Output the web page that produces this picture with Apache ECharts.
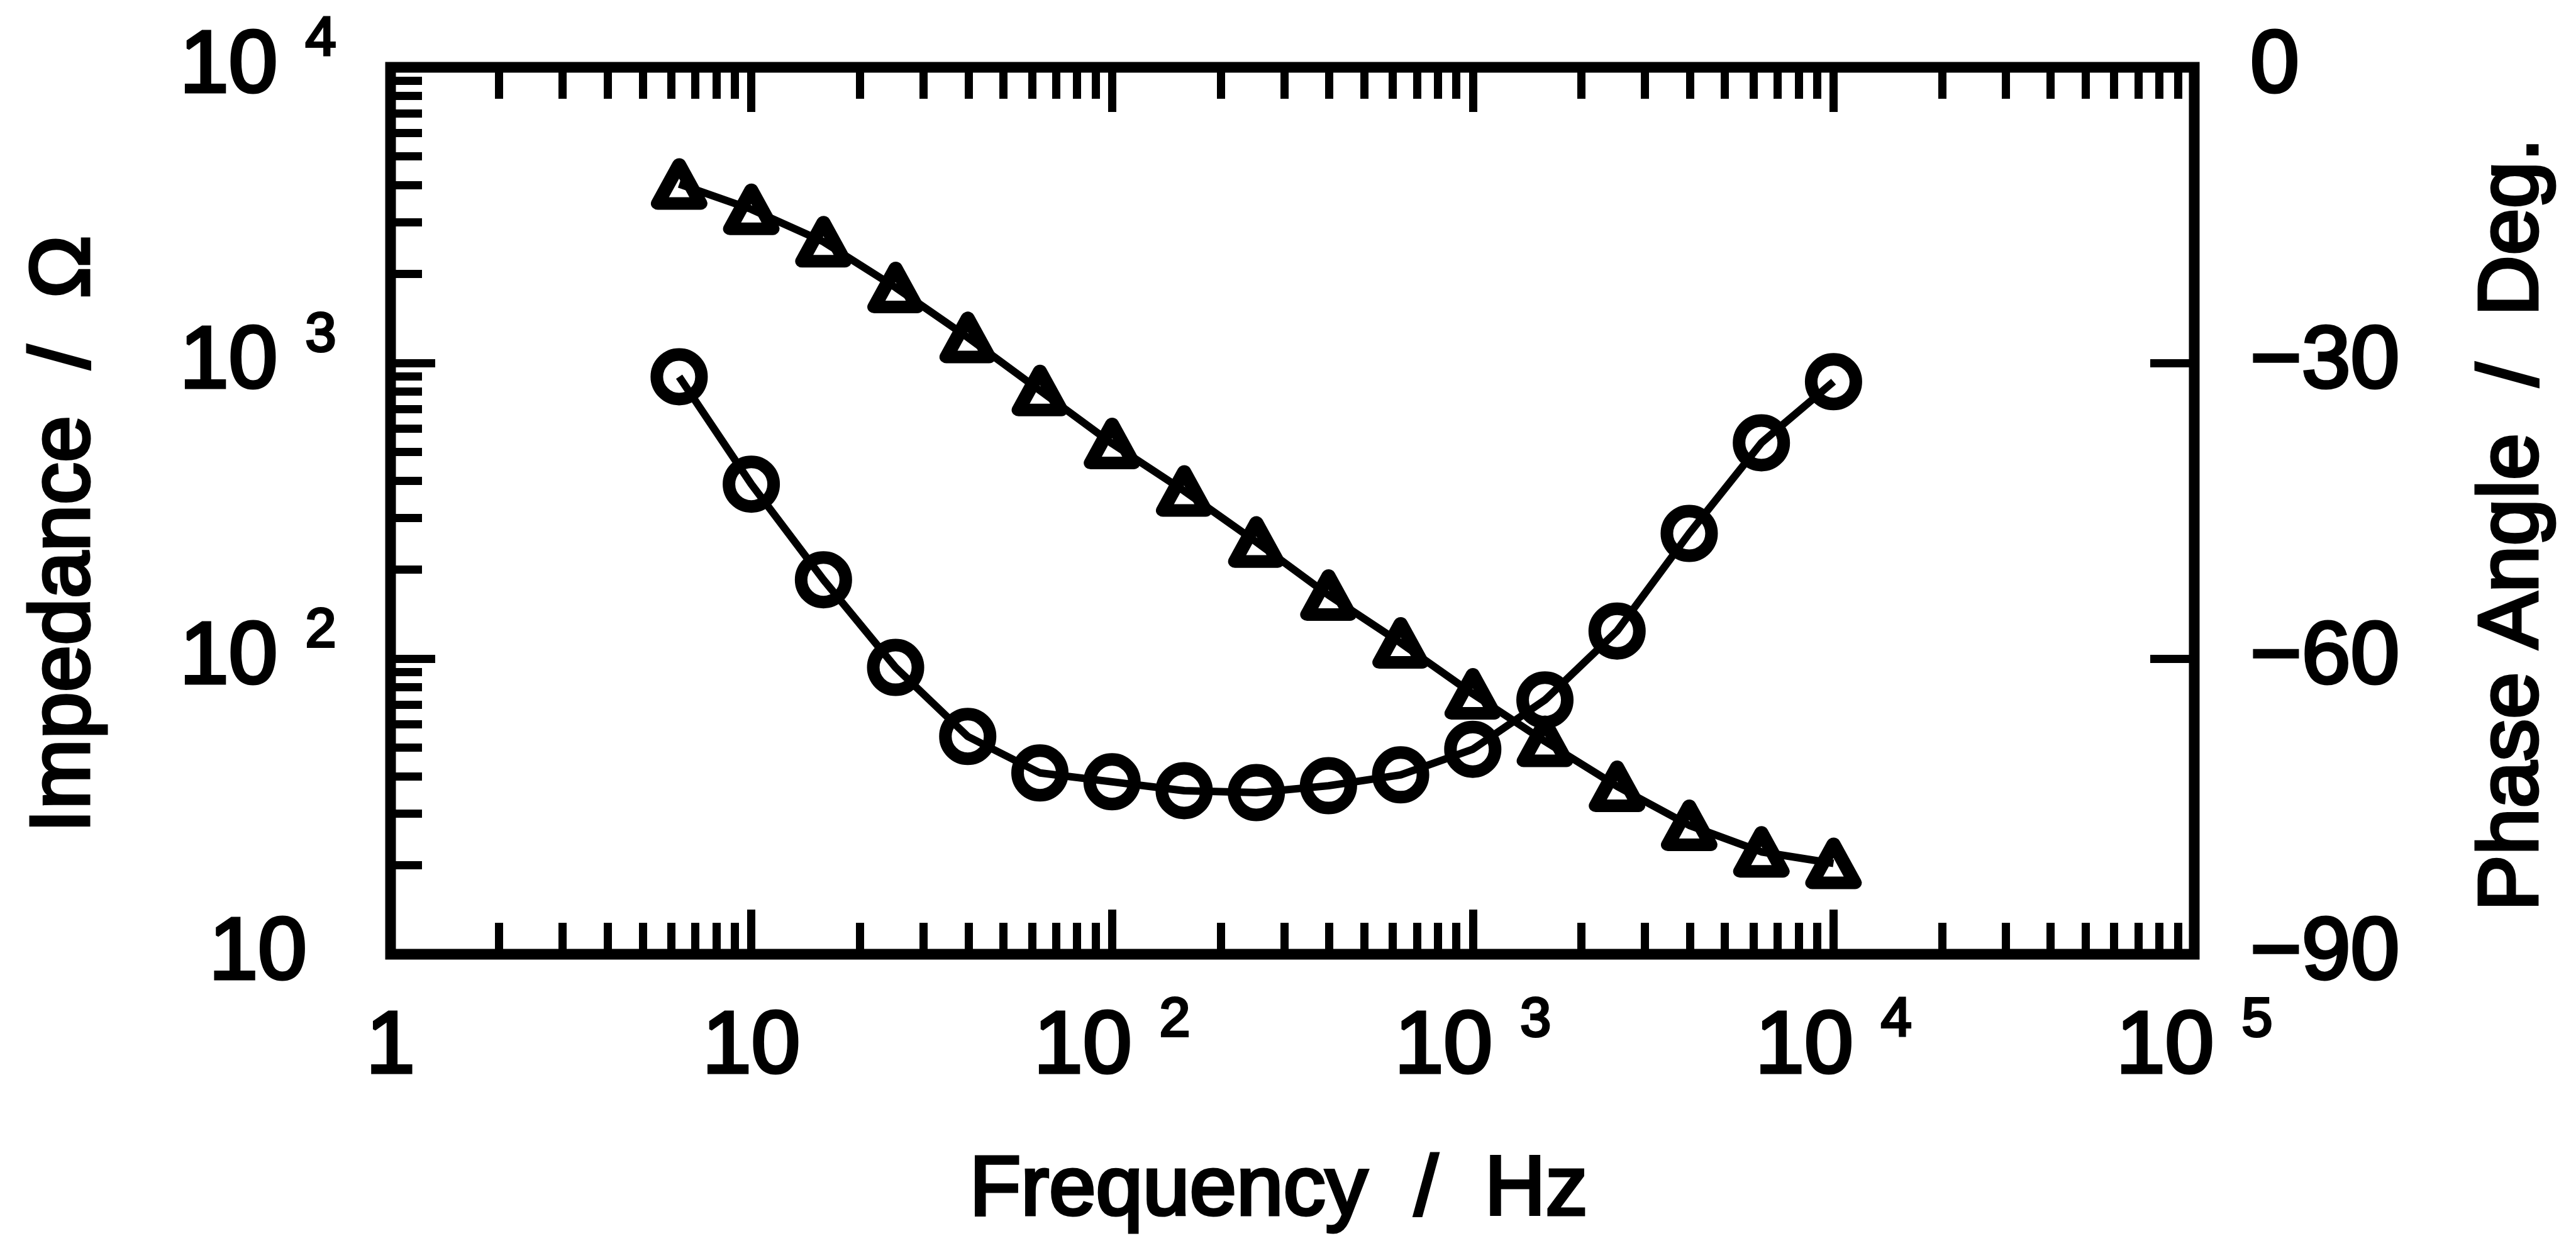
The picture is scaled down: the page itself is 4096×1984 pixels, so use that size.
<!DOCTYPE html>
<html>
<head>
<meta charset="utf-8">
<script src="https://cdn.jsdelivr.net/npm/echarts@6/dist/echarts.min.js"></script>
<style>
html,body{margin:0;padding:0;background:#fff;}
#chart{width:4096px;height:1984px;}
</style>
</head>
<body>
<div id="chart"></div>
<script>
// ---- data ----
const frequency = [6.31, 10, 15.85, 25.12, 39.81, 63.1, 100, 158.5, 251.2, 398.1, 631, 1000, 1585, 2512, 3981, 6310, 10000];
const impedance = [4030, 3310, 2570, 1800, 1220, 807, 534, 369, 248, 164, 113, 76, 52.5, 37, 27.3, 22.2, 20.3];
const phase = [-31.4, -42.3, -52.0, -60.9, -67.9, -71.6, -72.5, -73.4, -73.6, -72.9, -71.8, -69.2, -64.2, -57.2, -47.3, -38.1, -31.9];

// ---- ticks and tick labels ----
const xMajorTicks = [1, 10, 100, 1000, 10000, 100000];
const xTickLabels = [['1', ''], ['10', ''], ['10', '2'], ['10', '3'], ['10', '4'], ['10', '5']];
const xMinorTicks = [2, 3, 4, 5, 6, 7, 8, 9,
  20, 30, 40, 50, 60, 70, 80, 90,
  200, 300, 400, 500, 600, 700, 800, 900,
  2000, 3000, 4000, 5000, 6000, 7000, 8000, 9000,
  20000, 30000, 40000, 50000, 60000, 70000, 80000, 90000];
const yMajorTicks = [10, 100, 1000, 10000];
const yTickLabels = [['10', ''], ['10', '2'], ['10', '3'], ['10', '4']];
const yMinorTicks = [20, 30, 40, 50, 60, 70, 80, 90,
  200, 300, 400, 500, 600, 700, 800, 900,
  2000, 3000, 4000, 5000, 6000, 7000, 8000, 9000];
const phaseTicks = [-90, -60, -30, 0];
const phaseTickLabels = ['\u221290', '\u221260', '\u221230', '0'];

const FONT = 'Liberation Sans';
const rich = {
  m: {fontFamily: FONT, fontSize: 140, lineHeight: 174, color: '#000', textBorderColor: '#000', textBorderWidth: 5},
  s: {fontFamily: FONT, fontSize: 88, verticalAlign: 'top', padding: [0, 0, 0, 44], color: '#000', textBorderColor: '#000', textBorderWidth: 4}
};
function nearestIndex(arr, v) {
  let best = 0, bd = Infinity;
  arr.forEach((t, i) => { const d = Math.abs(Math.log10(t) - Math.log10(v)); if (d < bd) { bd = d; best = i; } });
  return best;
}
function powFormatter(ticks, labels) {
  return function (v) {
    const l = labels[nearestIndex(ticks, v)];
    return l[1] ? '{m|' + l[0] + '}{s|' + l[1] + '}' : '{m|' + l[0] + '}';
  };
}
const nameStyle = {fontFamily: FONT, fontSize: 134, color: '#000', textBorderColor: '#000', textBorderWidth: 5};
const TICK_W = 13;

function logX(position, minor, withLabel) {
  const ax = {
    type: 'log', logBase: 10, min: 1, max: 100000, position: position,
    axisLine: {show: false, onZero: false},
    splitLine: {show: false}, minorTick: {show: false}, minorSplitLine: {show: false},
    axisTick: {show: true, inside: true, length: minor ? 50 : 71,
      lineStyle: {color: '#000', width: TICK_W}, customValues: minor ? xMinorTicks : xMajorTicks},
    axisLabel: {show: false},
    silent: true
  };
  if (withLabel) {
    ax.axisLabel = {show: true, margin: 62, customValues: xMajorTicks,
      formatter: powFormatter(xMajorTicks, xTickLabels), rich: rich};
    ax.name = 'Frequency  /  Hz';
    ax.nameLocation = 'middle';
    ax.nameGap = 310;
    ax.nameTextStyle = Object.assign({padding: [0, 44, 0, 0]}, nameStyle);
  }
  return ax;
}

const option = {
  backgroundColor: '#fff',
  animation: false,
  grid: {left: 621, right: 607, top: 107, bottom: 467, show: true, borderColor: '#000', borderWidth: 17,
    backgroundColor: 'transparent', containLabel: false, outerBoundsMode: 'none'},
  xAxis: [
    logX('bottom', false, true),
    logX('bottom', true, false),
    logX('top', false, false),
    logX('top', true, false)
  ],
  yAxis: [
    {
      type: 'log', logBase: 10, min: 10, max: 10000, position: 'left',
      axisLine: {show: false, onZero: false},
      splitLine: {show: false}, minorTick: {show: false},
      axisTick: {show: true, inside: true, length: 71, lineStyle: {color: '#000', width: TICK_W}, customValues: yMajorTicks},
      axisLabel: {show: true, margin: 211, align: 'center', customValues: yMajorTicks,
        formatter: powFormatter(yMajorTicks, yTickLabels), rich: rich},
      name: 'Impedance  /  \u03A9', nameLocation: 'middle', nameRotate: 90, nameGap: 450,
      nameTextStyle: Object.assign({padding: [0, 74, 0, 0]}, nameStyle),
      silent: true
    },
    {
      type: 'log', logBase: 10, min: 10, max: 10000, position: 'left',
      axisLine: {show: false, onZero: false},
      splitLine: {show: false}, minorTick: {show: false},
      axisTick: {show: true, inside: true, length: 50, lineStyle: {color: '#000', width: TICK_W}, customValues: yMinorTicks},
      axisLabel: {show: false},
      silent: true
    },
    {
      type: 'value', min: -90, max: 0, interval: 30, position: 'right',
      axisLine: {show: false, onZero: false},
      splitLine: {show: false},
      axisTick: {show: true, inside: true, length: 70, lineStyle: {color: '#000', width: TICK_W}, customValues: phaseTicks},
      axisLabel: {show: true, margin: 89, customValues: phaseTicks,
        formatter: function (v) { return '{m|' + phaseTickLabels[phaseTicks.indexOf(Math.round(v))] + '}'; }, rich: rich},
      name: 'Phase Angle  /  Deg.', nameLocation: 'middle', nameRotate: 90, nameGap: 441,
      nameTextStyle: Object.assign({padding: [0, 44, 0, 0]}, nameStyle),
      silent: true
    }
  ],
  series: [
    {
      type: 'line', name: 'Impedance', xAxisIndex: 0, yAxisIndex: 0,
      data: frequency.map((f, i) => [f, impedance[i]]),
      symbol: 'triangle', symbolSize: [68, 62], showAllSymbol: true,
      itemStyle: {color: 'transparent', borderColor: '#000', borderWidth: 21, borderJoin: 'round'},
      lineStyle: {color: '#000', width: 12},
      silent: true
    },
    {
      type: 'line', name: 'Phase', xAxisIndex: 0, yAxisIndex: 2,
      data: frequency.map((f, i) => [f, phase[i]]),
      symbol: 'circle', symbolSize: 71, showAllSymbol: true,
      itemStyle: {color: 'transparent', borderColor: '#000', borderWidth: 20},
      lineStyle: {color: '#000', width: 12},
      silent: true
    }
  ]
};
const chart = echarts.init(document.getElementById('chart'), null, {renderer: 'canvas'});
chart.setOption(option);
</script>
</body>
</html>
